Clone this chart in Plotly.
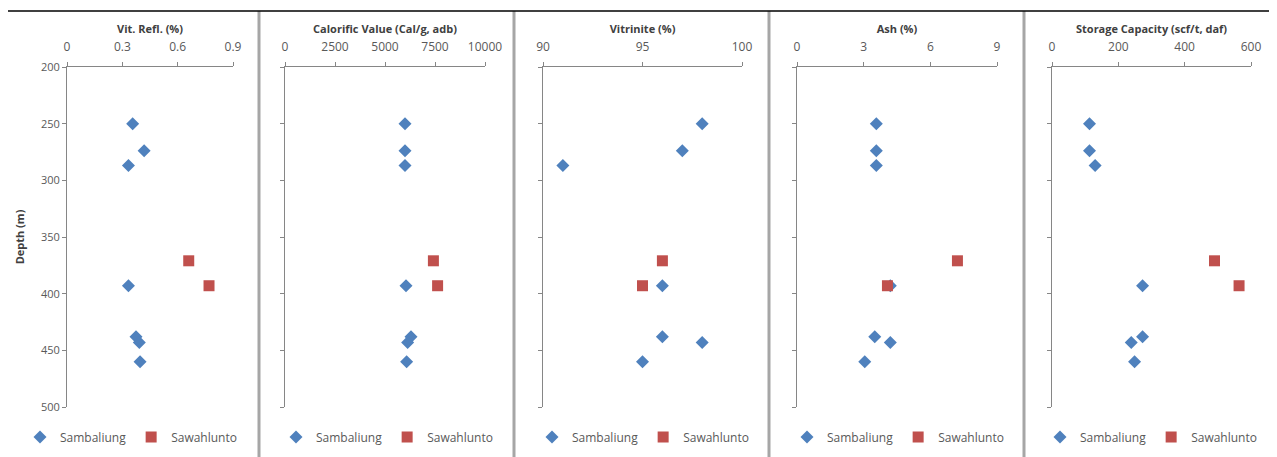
import plotly.graph_objects as go

W, H = 1277, 457
OFF = 8  # page body margin in the browser

# ---- data ----
sam_depth = [250, 274, 287, 393, 438, 443, 460]
saw_depth = [371, 393]

sam_vitrefl = [0.356, 0.418, 0.333, 0.333, 0.374, 0.392, 0.396]
saw_vitrefl = [0.66, 0.77]
sam_cv = [6000, 6000, 6000, 6050, 6300, 6130, 6080]
saw_cv = [7420, 7630]
sam_vit = [98.0, 97.0, 91.0, 96.0, 96.0, 98.0, 95.0]
saw_vit = [96.0, 95.0]
sam_ash = [3.57, 3.57, 3.57, 4.2, 3.5, 4.2, 3.05]
saw_ash = [7.22, 4.07]
sam_sc = [113, 113, 130, 273, 273, 239, 249]
saw_sc = [490, 564]

titles = ["Vit. Refl. (%)", "Calorific Value (Cal/g, adb)", "Vitrinite (%)",
          "Ash (%)", "Storage Capacity (scf/t, daf)"]
x_ranges = [[0, 0.9], [0, 10000], [90, 100], [0, 9], [0, 600]]
x_dticks = [0.3, 2500, 5, 3, 200]
x_formats = ["", "d", "", "", ""]
sam_vals = [sam_vitrefl, sam_cv, sam_vit, sam_ash, sam_sc]
saw_vals = [saw_vitrefl, saw_cv, saw_vit, saw_ash, saw_sc]
depth_range = [200, 500]

# ---- layout geometry (screen pixels) ----
panel_x = [(67, 233), (285, 485), (543, 742), (797, 997), (1052, 1251)]
panel_y = (67, 407)
separators = [259, 514, 769, 1024]
legend_centers = [131, 387, 643, 898, 1151]


def fx(p):
    return (p - OFF) / W


def fy(p):
    return 1 - (p - OFF) / H


BLUE = "#4F81BD"
RED = "#C0504D"
AXC = "#868686"
FONT = "Open Sans"

fig = go.Figure()
layout = dict(
    width=W, height=H, margin=dict(l=0, r=0, t=0, b=0, autoexpand=False),
    paper_bgcolor="white", plot_bgcolor="white",
    font=dict(family=FONT, size=11, color="#404040"),
    shapes=[], showlegend=True,
)

for i in range(5):
    n = "" if i == 0 else str(i + 1)
    xa, ya = "x" + n, "y" + n
    lg = "legend" + n
    fig.add_trace(go.Scatter(
        x=sam_vals[i], y=sam_depth, mode="markers", name="Sambaliung",
        marker=dict(symbol="diamond", color=BLUE, size=10),
        xaxis=xa, yaxis=ya, legend=lg))
    fig.add_trace(go.Scatter(
        x=saw_vals[i], y=saw_depth, mode="markers", name="Sawahlunto",
        marker=dict(symbol="square", color=RED, size=11),
        xaxis=xa, yaxis=ya, legend=lg))
    x0, x1 = panel_x[i]
    layout["xaxis" + n] = dict(
        domain=[fx(x0), fx(x1)], anchor=ya, side="top",
        range=x_ranges[i], dtick=x_dticks[i], tick0=x_ranges[i][0],
        tickformat=x_formats[i], ticklabelstandoff=6,
        showgrid=False, zeroline=False, showline=True, linecolor=AXC,
        ticks="outside", ticklen=4, tickcolor=AXC,
        tickfont=dict(size=12, color="#595959", family=FONT),
        title=dict(text="<b>" + titles[i] + "</b>", standoff=2,
                   font=dict(size=11, color="#404040", family=FONT)),
        fixedrange=True,
    )
    layout["yaxis" + n] = dict(
        domain=[fy(panel_y[1]), fy(panel_y[0])], anchor=xa,
        range=[depth_range[1], depth_range[0]], dtick=50,
        showgrid=False, zeroline=False, showline=True, linecolor=AXC,
        ticks="outside", ticklen=4, tickcolor=AXC,
        showticklabels=(i == 0),
        tickfont=dict(size=11, color="#595959", family=FONT),
        title=dict(text="<b>Depth (m)</b>" if i == 0 else "", standoff=14,
                   font=dict(size=11, color="#404040", family=FONT)),
        fixedrange=True,
    )
    layout[lg] = dict(
        orientation="h", x=fx(legend_centers[i]), xanchor="center",
        y=fy(437), yanchor="middle", bgcolor="rgba(0,0,0,0)",
        font=dict(size=12, color="#595959", family=FONT),
        itemwidth=30, tracegroupgap=0,
    )

for sx in separators:
    layout["shapes"].append(dict(type="line", xref="paper", yref="paper",
                                 x0=fx(sx), x1=fx(sx), y0=0, y1=fy(11),
                                 line=dict(color="#A6A6A6", width=3)))
# outer border: top and right
layout["shapes"].append(dict(type="line", xref="paper", yref="paper",
                             x0=0, x1=fx(1271), y0=fy(11), y1=fy(11),
                             line=dict(color="black", width=1.5)))
layout["shapes"].append(dict(type="line", xref="paper", yref="paper",
                             x0=fx(1271), x1=fx(1271), y0=0, y1=fy(11),
                             line=dict(color="black", width=1.5)))

fig.update_layout(**layout)
fig.write_html("out.html")
